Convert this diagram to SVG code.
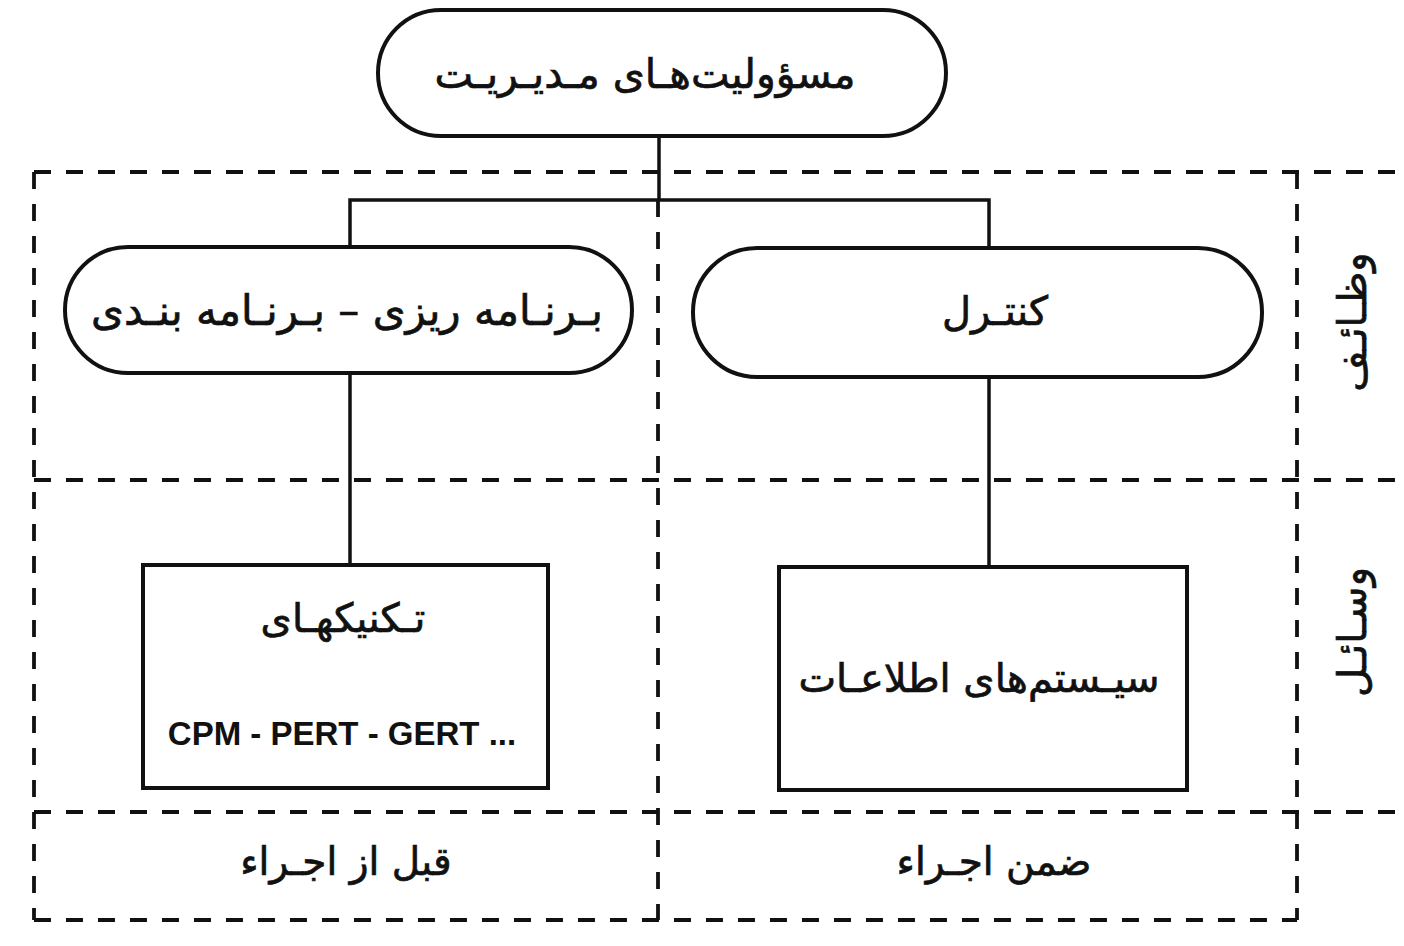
<svg xmlns="http://www.w3.org/2000/svg" width="1404" height="946" viewBox="0 0 1404 946">
  <style>
    .bg { fill: #ffffff; }
    .node { fill: #ffffff; stroke: #111111; stroke-width: 4; }
    .wire { fill: none; stroke: #111111; stroke-width: 3.5; }
    .grid { fill: none; stroke: #111111; stroke-width: 3.8; stroke-dasharray: 17 15; }
    .fa { font-family: "DejaVu Sans", sans-serif; fill: #111111; stroke: #111111; stroke-width: 0.7; text-anchor: middle; }
    .lat { font-family: "Liberation Sans", Arial, sans-serif; font-weight: bold; fill: #111111; text-anchor: middle; }
  </style>

  <rect class="bg" x="0" y="0" width="1404" height="946"/>

  <!-- dashed grid: rows (functions / tools / timing) and columns -->
  <g id="grid">
    <line class="grid" x1="34" y1="172" x2="1404" y2="172"/>
    <line class="grid" x1="34" y1="480" x2="1404" y2="480"/>
    <line class="grid" x1="34" y1="812" x2="1404" y2="812"/>
    <line class="grid" x1="34" y1="920" x2="1297" y2="920"/>
    <line class="grid" x1="34" y1="172" x2="34" y2="920"/>
    <line class="grid" x1="658" y1="200" x2="658" y2="920"/>
    <line class="grid" x1="1297" y1="172" x2="1297" y2="920"/>
  </g>

  <!-- connectors -->
  <g id="connectors">
    <line class="wire" x1="659" y1="136" x2="659" y2="200"/>
    <polyline class="wire" points="350,247 350,200 989,200 989,248"/>
    <line class="wire" x1="350" y1="373" x2="350" y2="565"/>
    <line class="wire" x1="989" y1="377" x2="989" y2="567"/>
  </g>

  <g id="node-management">
    <rect class="node" x="378" y="10" width="568" height="126" rx="63" ry="63"/>
    <text class="fa" x="645" y="88" font-size="41">مسؤولیت‌هـای مـدیـریـت</text>
  </g>

  <g id="node-planning">
    <rect class="node" x="65" y="247" width="567" height="126" rx="63" ry="63"/>
    <text class="fa" x="347" y="325" font-size="42">بـرنـامه ریزی – بـرنـامه بنـدی</text>
  </g>

  <g id="node-control">
    <rect class="node" x="693" y="248" width="569" height="129" rx="64" ry="64"/>
    <text class="fa" x="995" y="325" font-size="40">کنتـرل</text>
  </g>

  <g id="node-techniques">
    <rect class="node" x="143" y="565" width="405" height="223"/>
    <text class="fa" x="343" y="632" font-size="40">تـکنیکهـای</text>
    <text class="lat" x="342" y="745" font-size="33">CPM - PERT - GERT ...</text>
  </g>

  <g id="node-info-systems">
    <rect class="node" x="779" y="567" width="408" height="223"/>
    <text class="fa" x="979" y="692" font-size="40">سیـستم‌های اطلاعـات</text>
  </g>

  <!-- column captions -->
  <g id="label-before">
    <text class="fa" x="346" y="875" font-size="39">قبل از اجـراء</text>
  </g>
  <g id="label-during">
    <text class="fa" x="994" y="875" font-size="39">ضمن اجـراء</text>
  </g>

  <!-- row captions, written vertically -->
  <g id="label-functions">
    <text class="fa" font-size="40" transform="translate(1366,322) rotate(-90)">وظـائـف</text>
  </g>
  <g id="label-tools">
    <text class="fa" font-size="40" transform="translate(1366,632) rotate(-90)">وسـائـل</text>
  </g>
</svg>
